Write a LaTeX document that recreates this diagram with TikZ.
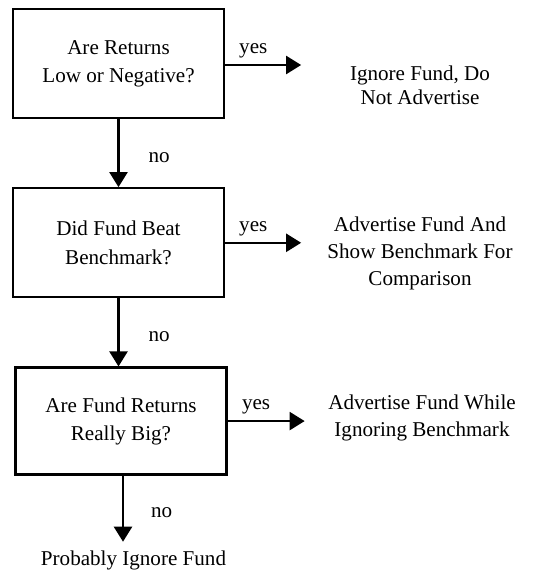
\documentclass[tikz,border=0pt]{standalone}
\usepackage{fontspec}
\setmainfont{Liberation Serif}
\usetikzlibrary{arrows.meta, positioning}
\tikzstyle{question} = [rectangle, minimum width=4.22cm, minimum height=2.18cm, text centered, align=center, draw=black, line width=1.3pt, font=\fontsize{12}{16}\selectfont]
\tikzstyle{outcome} = [align=center, font=\fontsize{12}{15}\selectfont]
\tikzstyle{answer} = [font=\fontsize{12}{14}\selectfont]
\tikzstyle{arrow} = [line width=1.3pt, -{Triangle[length=0.3cm, width=0.36cm]}]

\begin{document}
\begin{tikzpicture}
\useasboundingbox (0,0) rectangle (10.92,-11.46);

\node (low) [question] at (2.37,-1.27) {Are Returns\\Low or Negative?};
\node (beat) [question, below=1.36cm of low] {Did Fund Beat\\Benchmark?};
\node (big) [question, below=1.36cm of beat, xshift=0.05cm, minimum height=2.14cm] {Are Fund Returns\\Really Big?};

\node (ignore) [outcome, font=\fontsize{12}{13.5}\selectfont] at ([xshift=6.03cm, yshift=-0.44cm]low.center) {Ignore Fund, Do\\Not Advertise};
\node (show) [outcome, font=\fontsize{12}{15.5}\selectfont] at ([xshift=6.03cm, yshift=-0.21cm]beat.center) {Advertise Fund And\\Show Benchmark For\\Comparison};
\node (while) [outcome] at ([xshift=6.02cm, yshift=0.06cm]big.center) {Advertise Fund While\\Ignoring Benchmark};
\node (probably) [outcome, below=1.38cm of big, xshift=0.25cm] {Probably Ignore Fund};

% free ends of the yes arrows
\coordinate (yes1) at ([xshift=1.52cm, yshift=-0.03cm]low.east);
\coordinate (yes2) at ([xshift=1.52cm]beat.east);
\coordinate (yes3) at ([xshift=1.54cm]big.east);

\draw [arrow] (low.east |- yes1) -- node[answer, above, pos=0.37] {yes} (yes1);
\draw [arrow] (beat.east) -- node[answer, above, pos=0.37] {yes} (yes2);
\draw [arrow] (big.east) -- node[answer, above, pos=0.37] {yes} (yes3);

\draw [arrow] (low) -- node[answer, right=0.46cm, pos=0.56] {no} (beat);
\draw [arrow] (beat.south) -- node[answer, right=0.46cm, pos=0.56] {no} (beat.south |- big.north);
\draw [arrow, shorten >=0.06cm] ([xshift=0.04cm]big.south) -- node[answer, right=0.42cm, pos=0.53] {no} ([xshift=0.04cm]big.south |- probably.north);
\end{tikzpicture}
\end{document}
